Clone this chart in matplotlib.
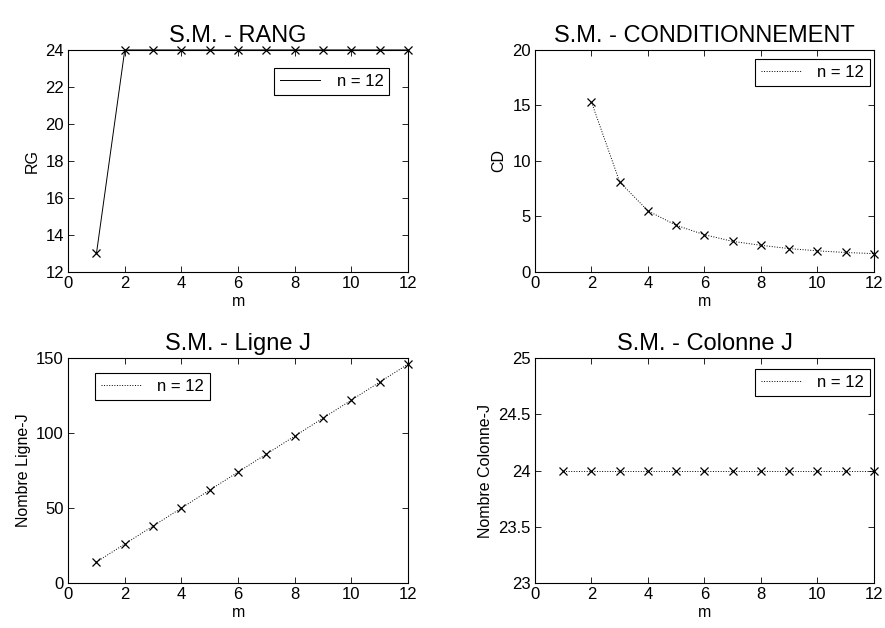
import matplotlib

matplotlib.use("Agg")
import matplotlib.pyplot as plt

plt.rcParams["font.family"] = ["Liberation Sans", "DejaVu Sans"]

# data
m_rang = [1, 2, 3, 4, 5, 6, 7, 8, 9, 10, 11, 12]
rang = [13, 24, 24, 24, 24, 24, 24, 24, 24, 24, 24, 24]

m_cond = [2, 3, 4, 5, 6, 7, 8, 9, 10, 11, 12]
cond = [15.3, 8.1, 5.5, 4.2, 3.35, 2.75, 2.4, 2.1, 1.9, 1.75, 1.65]

m_ligne = [1, 2, 3, 4, 5, 6, 7, 8, 9, 10, 11, 12]
ligne = [14, 26, 38, 50, 62, 74, 86, 98, 110, 122, 134, 146]

m_col = [1, 2, 3, 4, 5, 6, 7, 8, 9, 10, 11, 12]
colonne = [24, 24, 24, 24, 24, 24, 24, 24, 24, 24, 24, 24]

x_ticks = [0, 2, 4, 6, 8, 10, 12]
legend_label = "n = 12"

panels = [
    # (rect, x, y, title, ylabel, ylim, yticks, yticklabels, linestyle, legend anchor)
    ([0.077, 0.567, 0.384, 0.3535], m_rang, rang, "S.M. - RANG", "RG", (12, 24),
     [12, 14, 16, 18, 20, 22, 24], None, "-", (0.606, 0.919)),
    ([0.6045, 0.567, 0.383, 0.3535], m_cond, cond, "S.M. - CONDITIONNEMENT", "CD", (0, 20),
     [0, 5, 10, 15, 20], None, ":", (0.649, 0.959)),
    ([0.077, 0.0717, 0.384, 0.358], m_ligne, ligne, "S.M. - Ligne J", "Nombre Ligne-J", (0, 150),
     [0, 50, 100, 150], None, ":", (0.079, 0.933)),
    ([0.6045, 0.0717, 0.383, 0.358], m_col, colonne, "S.M. - Colonne J", "Nombre Colonne-J", (23, 25),
     [23, 23.5, 24, 24.5, 25], ["23", "23.5", "24", "24.5", "25"], ":", (0.649, 0.951)),
]

fig = plt.figure(figsize=(8.85, 6.28), dpi=100)

for rect, xs, ys, title, ylabel, ylim, yticks, yticklabels, ls, anchor in panels:
    ax = fig.add_axes(rect)
    ax.plot(xs, ys, color="black", linestyle=ls, linewidth=0.7, marker="x",
            markersize=5.5, markeredgewidth=0.9, label=legend_label, clip_on=False,
            zorder=3)
    ax.set_xlim(0, 12)
    ax.set_ylim(*ylim)
    ax.set_xticks(x_ticks)
    ax.set_yticks(yticks)
    if yticklabels:
        ax.set_yticklabels(yticklabels)
    ax.tick_params(direction="in", top=True, right=True, labelsize=12,
                   length=4, width=0.6, pad=3)
    for sp in ax.spines.values():
        sp.set_linewidth(0.8)
    ax.set_title(title, fontsize=17, pad=6)
    ax.set_xlabel("m", fontsize=11.5, labelpad=2)
    ax.set_ylabel(ylabel, fontsize=11.5, labelpad=4)
    leg = ax.legend(loc="upper left", bbox_to_anchor=anchor, borderaxespad=0,
                    fancybox=False, edgecolor="black", framealpha=1,
                    fontsize=12, handlelength=2.4, handletextpad=1.0,
                    borderpad=0.35)
    leg.get_frame().set_linewidth(0.8)
    for h in leg.legend_handles:
        h.set_marker("")

fig.savefig("out.png", dpi=100)
